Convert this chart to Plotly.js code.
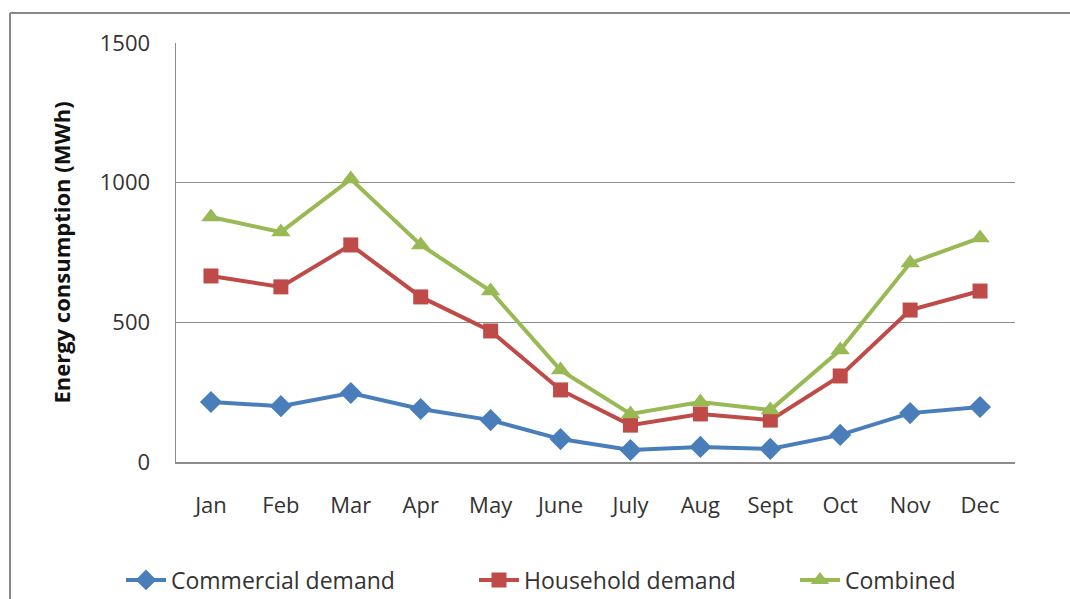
<!DOCTYPE html>
<html><head><meta charset="utf-8">
<script src="https://cdn.plot.ly/plotly-3.0.1.min.js"></script>
<style>html,body{margin:0;padding:0;background:#fff}</style>
</head><body><div id="chart" style="width:1070px;height:599px"></div>
<script>
const months = ["Jan","Feb","Mar","Apr","May","June","July","Aug","Sept","Oct","Nov","Dec"];
const commercial = [215,200,247,190,150,82,43,54,47,97,175,197];
const household = [666,627,777,591,469,258,132,172,150,308,544,612];
const combined = [877,823,1013,777,612,329,172,215,186,401,712,802];
const yTicks = [0,500,1000,1500];

const font = "Open Sans, Liberation Sans, sans-serif";
const traces = [
  {x:months,y:commercial,name:"Commercial demand",mode:"lines+markers",legend:"legend",
   line:{color:"#4a7ebb",width:4},marker:{symbol:"diamond",size:17,color:"#4a7ebb"}},
  {x:months,y:household,name:"Household demand",mode:"lines+markers",legend:"legend2",
   line:{color:"#be4b48",width:4},marker:{symbol:"square",size:15,color:"#be4b48"}},
  {x:months,y:combined,name:"Combined",mode:"lines+markers",legend:"legend3",
   line:{color:"#98b954",width:4},marker:{symbol:"triangle-up",size:17,color:"#98b954"}}
];
const W=1070,H=599;
const fx = v => v/W, fy = v => (H-v)/H;
const leg = x => ({x:fx(x),xanchor:"left",y:fy(580),yanchor:"middle",orientation:"h",
  bgcolor:"rgba(0,0,0,0)",font:{size:23,color:"#333"},itemwidth:40});
const layout = {
  width:W,height:H,
  margin:{l:0,r:0,t:0,b:0,autoexpand:false},
  paper_bgcolor:"#fff",plot_bgcolor:"#fff",
  font:{family:font,size:22,color:"#333"},
  showlegend:true,
  legend:leg(121),legend2:leg(474),legend3:leg(795),
  xaxis:{domain:[fx(176),fx(1015)],type:"category",showgrid:false,showline:true,linecolor:"#8c8c8c",linewidth:1.5,
    ticks:"",ticklabelstandoff:23,tickfont:{size:22},range:[-0.5,11.5],fixedrange:true},
  yaxis:{domain:[fy(462),fy(43)],range:[0,1500],tickvals:yTicks,ticktext:yTicks.map(String),showgrid:true,gridcolor:"#8c8c8c",gridwidth:1.2,
    showline:true,linecolor:"#8c8c8c",linewidth:1.5,zeroline:false,ticks:"",ticklabelstandoff:20,
    tickfont:{size:22},
    title:{text:"<b>Energy consumption (MWh)</b>",font:{size:22,color:"#111"},standoff:23}},
  shapes:[
    {type:"line",xref:"paper",yref:"paper",x0:fx(10),x1:fx(1075),y0:fy(13),y1:fy(13),line:{color:"#888",width:2}},
    {type:"line",xref:"paper",yref:"paper",x0:fx(10),x1:fx(10),y0:fy(13),y1:fy(605),line:{color:"#888",width:2}}
  ]
};
Plotly.newPlot("chart",traces,layout,{displayModeBar:false,staticPlot:true});
</script></body></html>
